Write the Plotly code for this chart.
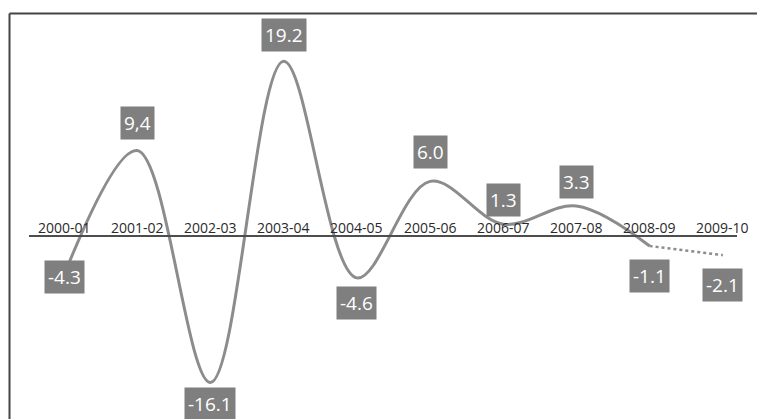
import plotly.graph_objects as go

# ---- data ----
categories = ["2000-01", "2001-02", "2002-03", "2003-04", "2004-05",
              "2005-06", "2006-07", "2007-08", "2008-09", "2009-10"]
values = [-4.3, 9.4, -16.1, 19.2, -4.6, 6.0, 1.3, 3.3, -1.1, -2.1]
value_labels = ["-4.3", "9,4", "-16.1", "19.2", "-4.6", "6.0", "1.3", "3.3", "-1.1", "-2.1"]

# ---- style ----
W, H = 757, 419
LINE = "#8c8c8c"
BOX = "#7f7f7f"
AXIS = "#4d4d4d"
label_dy = [-2, 27, -21, 26, -25, 29, 24, 24, -30, -30]  # vertical offsets (px) of value boxes

fig = go.Figure()

n = len(categories)
x_idx = list(range(n))

# solid part (up to 2008-09)
fig.add_trace(go.Scatter(
    x=x_idx[:n - 1], y=values[:n - 1], mode="lines",
    line=dict(color=LINE, width=3, shape="spline", smoothing=1.0),
    hoverinfo="skip", showlegend=False))
# dotted forecast part
fig.add_trace(go.Scatter(
    x=x_idx[n - 2:], y=values[n - 2:], mode="lines",
    line=dict(color=LINE, width=2.5, dash="dot"),
    hoverinfo="skip", showlegend=False))

annotations = []
for i, (c, v, t) in enumerate(zip(categories, values, value_labels)):
    annotations.append(dict(
        x=i, y=v, xref="x", yref="y", text=t, showarrow=False,
        yshift=label_dy[i], xshift=0,
        font=dict(family="Open Sans", size=19, color="white"),
        bgcolor=BOX, borderpad=3))
    annotations.append(dict(
        x=i, y=0, xref="x", yref="y", text=c, showarrow=False,
        yanchor="bottom", yshift=-3,
        font=dict(family="Open Sans", size=14, color="#2a2a2a")))

px_per_unit = 9.1
zero_px = 236
y_top = zero_px / px_per_unit
y_bot = -(H - zero_px) / px_per_unit
cat_px0, cat_step = 64, 73.2
x0 = -cat_px0 / cat_step
x1 = x0 + W / cat_step

shapes = [
    # frame
    dict(type="line", xref="paper", yref="paper", x0=9.5 / W, x1=9.5 / W, y0=0, y1=1 - 13.5 / H,
         line=dict(color="#444444", width=2)),
    dict(type="line", xref="paper", yref="paper", x0=9.5 / W, x1=1, y0=1 - 13.5 / H, y1=1 - 13.5 / H,
         line=dict(color="#444444", width=2)),
    # zero axis line
    dict(type="line", xref="paper", yref="y", x0=29 / W, x1=737 / W, y0=0, y1=0,
         line=dict(color=AXIS, width=2)),
]

fig.update_layout(
    width=W, height=H,
    margin=dict(l=0, r=0, t=0, b=0),
    paper_bgcolor="white", plot_bgcolor="white",
    xaxis=dict(range=[x0, x1], visible=False, fixedrange=True),
    yaxis=dict(range=[y_bot, y_top], visible=False, fixedrange=True),
    annotations=annotations, shapes=shapes,
    showlegend=False,
)

fig.write_html("out.html")
